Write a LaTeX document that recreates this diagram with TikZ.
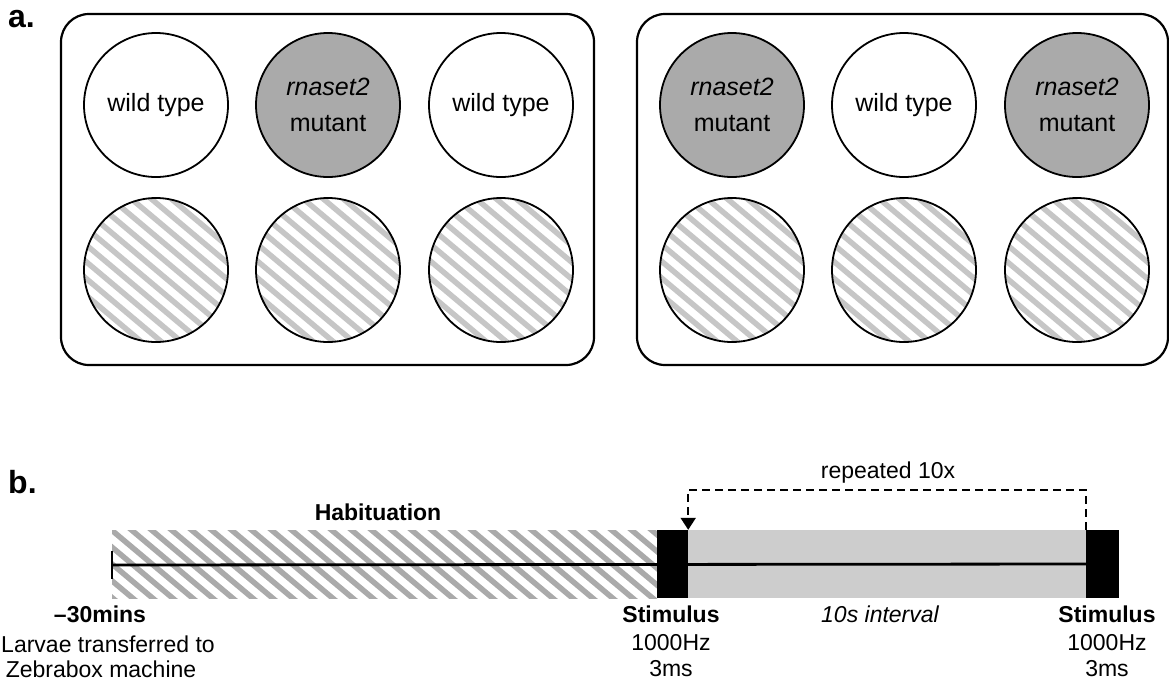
\documentclass[tikz,border=0pt]{standalone}
\usepackage{fontspec}
\setmainfont{Liberation Sans}
\usetikzlibrary{arrows.meta}

\definecolor{mutgray}{RGB}{170,170,170}
\definecolor{wellhatch}{RGB}{198,198,198}
\definecolor{barhatch}{RGB}{170,170,170}
\definecolor{intgray}{RGB}{205,205,205}

\begin{document}
\begin{tikzpicture}[x=1pt,y=-1pt,
    plate/.style={draw=black,line width=2.2pt,rounded corners=28pt},
    well/.style={circle,draw=black,line width=1.8pt,minimum size=144pt,inner sep=0pt,
      align=center,font=\fontsize{25}{36}\selectfont},
    wt/.style={well,fill=white},
    mut/.style={well,fill=mutgray},
    hatchline/.style={line width=5.5pt},
    stimbox/.style={fill=black,minimum height=68pt,inner sep=0pt},
    timeline/.style={line width=2.8pt},
    txt/.style={anchor=base,inner sep=0pt,font=\fontsize{23}{27}\selectfont},
    btxt/.style={txt,font=\fontsize{23}{27}\selectfont\bfseries},
    panel/.style={anchor=base west,inner sep=0pt,font=\fontsize{32}{36}\selectfont\bfseries}]
  \useasboundingbox (0,0) rectangle (1169,686);

  %% panel a: two plates
  \node[panel] (pa) at (8,27) {a.};
  \draw[plate] (61,14) rectangle (594,365);
  \draw[plate] (637,14) rectangle (1168,365);
  % top row, left plate
  \node[wt]  (l1) at (156,105) {wild type};
  \node[mut] (l2) at (328,105) {\textit{rnaset2}\\mutant};
  \node[wt]  (l3) at (501,105) {wild type};
  % top row, right plate
  \node[mut] (r1) at (732,105) {\textit{rnaset2}\\mutant};
  \node[wt]  (r2) at (904,105) {wild type};
  \node[mut] (r3) at (1077,105) {\textit{rnaset2}\\mutant};
  % bottom row, hatched wells
  \foreach \wx/\wn in {156/lb1,328/lb2,501/lb3,732/rb1,904/rb2,1077/rb3}{
    \begin{scope}[shift={(\wx,270)}]
      \clip (0,0) circle (72pt);
      \foreach \k in {-9,...,9}
        \draw[hatchline,wellhatch] (\k*20-100,-84) -- (\k*20+100,84);
    \end{scope}
    \node[well] (\wn) at (\wx,270) {};
  }

  %% panel b: timeline
  \node[panel] (pb) at (8,493) {b.};
  \begin{scope}
    \clip (112,530) rectangle (657,598);
    \foreach \k in {-3,...,32}
      \draw[hatchline,barhatch] (112+\k*20-100,480) -- (112+\k*20+100,648);
  \end{scope}
  \fill[intgray] (688,530) rectangle (1086,598);
  \coordinate (start) at (112,565);
  \node[stimbox,minimum width=31pt] (stimA) at (672.5,564) {};
  \node[stimbox,minimum width=33pt] (stimB) at (1102.5,564) {};
  \draw[timeline] (start) -- (stimB.west);
  \draw[timeline] ([yshift=14pt]start) -- ([yshift=-14pt]start);
  \fill (stimA.north west) rectangle (stimA.south east);
  \draw[line width=2pt,dash pattern=on 8pt off 5pt,-{Triangle[width=15pt,length=12pt]}]
    (stimB.north west) -- ++(0,-40) -| (stimA.north east);

  \node[txt] (rep) at (888,478) {repeated 10x};
  \node[btxt] (hab) at (378,520) {Habituation};
  \node[btxt] (t0) at (100,622) {--30mins};
  \node[txt] (t0a) at (108,652) {Larvae transferred to};
  \node[txt] (t0b) at (101,677) {Zebrabox machine};
  \node[btxt] (sa) at (671,622) {Stimulus};
  \node[txt] (sa1) at (671,650) {1000Hz};
  \node[txt] (sa2) at (671,676) {3ms};
  \node[txt,font=\fontsize{23}{27}\selectfont\itshape] (int) at (880,622) {10s interval};
  \node[btxt] (sb) at (1107,622) {Stimulus};
  \node[txt] (sb1) at (1107,650) {1000Hz};
  \node[txt] (sb2) at (1107,676) {3ms};
\end{tikzpicture}
\end{document}
